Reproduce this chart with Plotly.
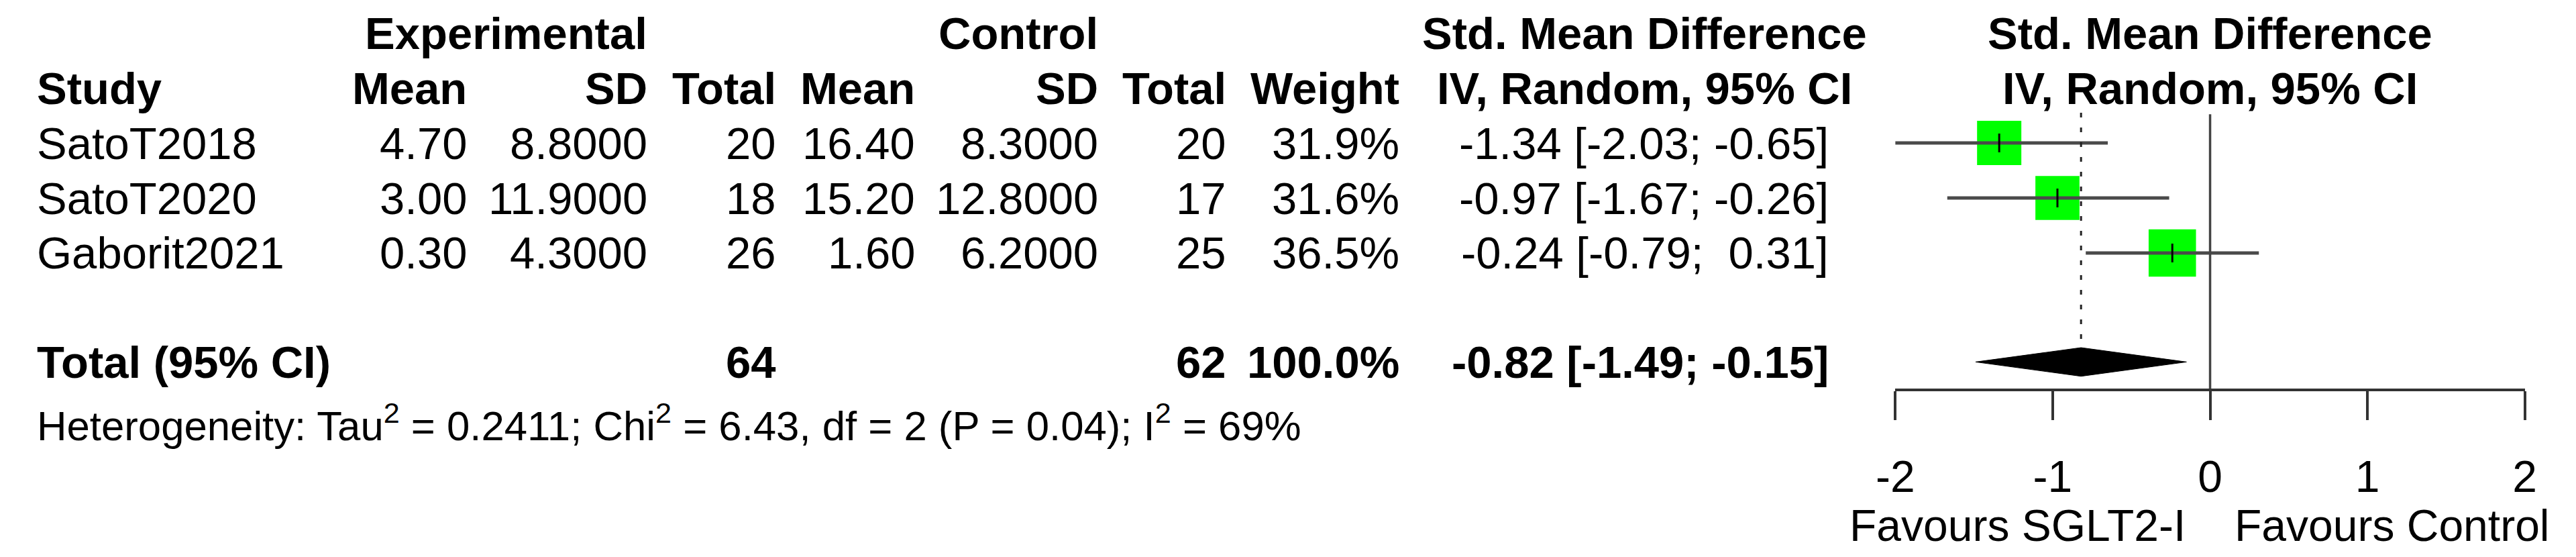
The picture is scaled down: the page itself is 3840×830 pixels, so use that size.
import plotly.graph_objects as go

# ---------------- data ----------------
studies = ["SatoT2018", "SatoT2020", "Gaborit2021"]
exp_mean = [4.70, 3.00, 0.30]
exp_sd = [8.8, 11.9, 4.3]
exp_n = [20, 18, 26]
ctrl_mean = [16.40, 15.20, 1.60]
ctrl_sd = [8.3, 12.8, 6.2]
ctrl_n = [20, 17, 25]
weights = [31.9, 31.6, 36.5]
smd = [-1.34, -0.97, -0.24]
smd_lo = [-2.03, -1.67, -0.79]
smd_hi = [-0.65, -0.26, 0.31]

pooled_label = "Total (95% CI)"
pooled_exp_n = 64
pooled_ctrl_n = 62
pooled_weight = 100.0
pooled = -0.82
pooled_lo = -1.49
pooled_hi = -0.15

tau2 = 0.2411
chi2 = 6.43
df = 2
p_het = 0.04
i2 = 69

x_ticks = [-2, -1, 0, 1, 2]
tick_labels = ["-2", "-1", "0", "1", "2"]
null_value = 0
label_left = "Favours SGLT2-I"
label_right = "Favours Control"

# ---------------- layout constants ----------------
W, H = 3840, 830
ROW0, ROWH = 213, 82          # pixel centre of first study row, row height
TEXT_DY = 0
FONT = "Liberation Sans, Arial, Helvetica, sans-serif"
FS = 67
FS_HET = 61.7
FS_AX = 66
AXIS_PX = 579                 # pixel y of forest axis line
X_LEFT_PX, X_RIGHT_PX = 2831, 3781


def py(k):
    """row index -> paper y"""
    return 1 - (ROW0 + ROWH * k + TEXT_DY) / H


def px(x):
    return x / W


k_top = -ROW0 / ROWH
k_axis = (AXIS_PX - ROW0) / ROWH
rows = list(range(len(studies)))
k_total = 3.98
k_het = 5.08
k_fav = 6.95

fig = go.Figure()

# squares (area proportional to weight)
SQ = 66
sizes = [SQ * (w / weights[0]) ** 0.5 for w in weights]
fig.add_trace(go.Scatter(
    x=smd, y=rows, mode="markers",
    marker=dict(symbol="square", size=sizes, color="#00ff00", opacity=1, line=dict(width=0)),
    hoverinfo="skip", showlegend=False))

# confidence intervals
ci_x, ci_y = [], []
for k, lo_, hi_ in zip(rows, smd_lo, smd_hi):
    ci_x += [lo_, hi_, None]
    ci_y += [k, k, None]
fig.add_trace(go.Scatter(
    x=ci_x, y=ci_y, mode="lines", line=dict(color="#4a4a4a", width=5),
    hoverinfo="skip", showlegend=False))

# point estimate tick
fig.add_trace(go.Scatter(
    x=smd, y=rows, mode="markers",
    marker=dict(symbol="line-ns", size=20, line=dict(color="black", width=3)),
    hoverinfo="skip", showlegend=False))

# null line
fig.add_trace(go.Scatter(
    x=[null_value, null_value], y=[-0.52, k_axis], mode="lines",
    line=dict(color="#444444", width=3.5), hoverinfo="skip", showlegend=False))

# pooled dashed line
DH = 0.26
fig.add_trace(go.Scatter(
    x=[pooled, pooled], y=[-0.55, k_total - DH], mode="lines",
    line=dict(color="#222222", width=3, dash="7px,15px"), hoverinfo="skip", showlegend=False))

# diamond
fig.add_trace(go.Scatter(
    x=[pooled_lo, pooled, pooled_hi, pooled, pooled_lo],
    y=[k_total, k_total - DH, k_total, k_total + DH, k_total],
    mode="lines", fill="toself", fillcolor="black",
    line=dict(color="black", width=1), hoverinfo="skip", showlegend=False))

ann = []


def text(x, k, s, anchor="right", bold=False, size=FS, xref="paper"):
    if bold:
        s = "<b>" + s + "</b>"
    ann.append(dict(
        x=px(x) if xref == "paper" else x, y=py(k), xref=xref, yref="paper",
        text=s, showarrow=False, xanchor=anchor, yanchor="middle", borderpad=0,
        font=dict(family=FONT, size=size, color="black")))


# column positions (right edges, px)
C_STUDY = 25
C_EM, C_ESD, C_EN = 676, 949, 1143
C_CM, C_CSD, C_CN = 1353, 1629, 1822
C_W = 2083
C_SMD = 2731
C_SMDH = 2453

# headers
text(C_ESD, -2, "Experimental", bold=True)
text(C_CSD, -2, "Control", bold=True)
text(C_SMDH, -2, "Std. Mean Difference", anchor="center", bold=True)
text(C_STUDY, -1, "Study", anchor="left", bold=True)
for c, s in [(C_EM, "Mean"), (C_ESD, "SD"), (C_EN, "Total"),
             (C_CM, "Mean"), (C_CSD, "SD"), (C_CN, "Total"), (C_W, "Weight")]:
    text(c, -1, s, bold=True)
text(C_SMDH, -1, "IV, Random, 95% CI", anchor="center", bold=True)
text(null_value, -2, "Std. Mean Difference", anchor="center", bold=True, xref="x")
text(null_value, -1, "IV, Random, 95% CI", anchor="center", bold=True, xref="x")

# study rows
for k in rows:
    text(C_STUDY, k, studies[k], anchor="left")
    text(C_EM, k, f"{exp_mean[k]:.2f}")
    text(C_ESD, k, f"{exp_sd[k]:.4f}")
    text(C_EN, k, f"{exp_n[k]}")
    text(C_CM, k, f"{ctrl_mean[k]:.2f}")
    text(C_CSD, k, f"{ctrl_sd[k]:.4f}")
    text(C_CN, k, f"{ctrl_n[k]}")
    text(C_W, k, f"{weights[k]:.1f}%")
    text(C_SMD, k, f"{smd[k]:.2f} [{smd_lo[k]:.2f}; {smd_hi[k]:5.2f}]")

# total row
text(C_STUDY, k_total, pooled_label, anchor="left", bold=True)
text(C_EN, k_total, f"{pooled_exp_n}", bold=True)
text(C_CN, k_total, f"{pooled_ctrl_n}", bold=True)
text(C_W, k_total, f"{pooled_weight:.1f}%", bold=True)
text(C_SMD, k_total, f"{pooled:.2f} [{pooled_lo:.2f}; {pooled_hi:.2f}]", bold=True)

# heterogeneity
het = (f"Heterogeneity: Tau<sup>2</sup> = {tau2:.4f}; Chi<sup>2</sup> = {chi2:.2f}, "
       f"df = {df} (P = {p_het:.2f}); I<sup>2</sup> = {i2}%")
text(C_STUDY, k_het, het, anchor="left", size=FS_HET)

# favours labels
ann.append(dict(x=-0.15, y=py(k_fav), xref="x", yref="paper", text=label_left,
                showarrow=False, xanchor="right", yanchor="middle", borderpad=0,
                font=dict(family=FONT, size=FS_AX, color="black")))
ann.append(dict(x=0.15, y=py(k_fav), xref="x", yref="paper", text=label_right,
                showarrow=False, xanchor="left", yanchor="middle", borderpad=0,
                font=dict(family=FONT, size=FS_AX, color="black")))

fig.update_layout(
    width=W, height=H,
    margin=dict(l=0, r=0, t=0, b=0),
    paper_bgcolor="white", plot_bgcolor="white",
    annotations=ann,
    showlegend=False,
    xaxis=dict(
        domain=[X_LEFT_PX / W, X_RIGHT_PX / W], range=[x_ticks[0], x_ticks[-1]],
        tickvals=x_ticks, ticktext=tick_labels,
        showline=True, linecolor="#333333", linewidth=4,
        ticks="outside", ticklen=43, tickwidth=3.5, tickcolor="#333333",
        ticklabelstandoff=28,
        tickfont=dict(family=FONT, size=FS_AX, color="black"),
        showgrid=False, zeroline=False, fixedrange=True),
    yaxis=dict(
        domain=[1 - AXIS_PX / H, 1], range=[k_axis, k_top],
        visible=False, showgrid=False, zeroline=False, fixedrange=True),
)

fig.write_html("out.html", config={"displayModeBar": False},
               post_script="document.body.style.margin='0';")
